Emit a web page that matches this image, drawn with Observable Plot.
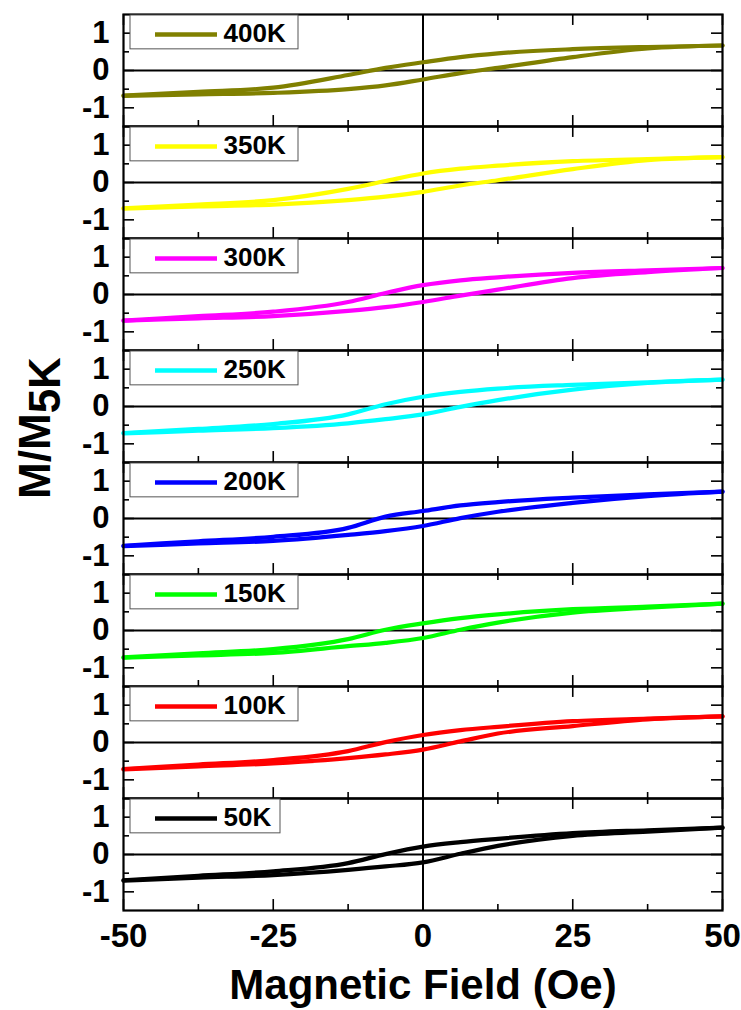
<!DOCTYPE html>
<html>
<head>
<meta charset="utf-8">
<script src="https://cdn.jsdelivr.net/npm/d3@7"></script>
<script src="https://cdn.jsdelivr.net/npm/@observablehq/plot@0.6"></script>
<style>
  html, body { margin: 0; padding: 0; background: #fff; }
  #chart { width: 741px; height: 1010px; }
</style>
</head>
<body>
<div id="chart"></div>
<script>
// ---- data ----
const temps = ["400K", "350K", "300K", "250K", "200K", "150K", "100K", "50K"];
const colors = ["#808000", "#ffff00", "#ff00ff", "#00ffff", "#0000ff", "#00ff00", "#ff0000", "#000000"];
const fields = [-50, -37.5, -25, -12.5, -6.25, 0, 6.25, 12.5, 25, 37.5, 50];

const up400  = [-0.67, -0.57, -0.46, -0.12, 0.07, 0.22, 0.36, 0.46, 0.57, 0.63, 0.67];
const low400 = [-0.68, -0.64, -0.60, -0.50, -0.40, -0.24, -0.07, 0.07, 0.36, 0.59, 0.67];
const up350  = [-0.69, -0.59, -0.47, -0.17, 0.04, 0.24, 0.37, 0.45, 0.57, 0.63, 0.68];
const low350 = [-0.70, -0.64, -0.59, -0.47, -0.38, -0.25, -0.08, 0.06, 0.36, 0.60, 0.68];
const up300  = [-0.70, -0.58, -0.46, -0.20, 0.04, 0.25, 0.38, 0.46, 0.58, 0.65, 0.71];
const low300 = [-0.70, -0.64, -0.58, -0.44, -0.34, -0.20, -0.03, 0.13, 0.44, 0.60, 0.71];
const up250  = [-0.71, -0.60, -0.47, -0.21, 0.06, 0.26, 0.39, 0.48, 0.58, 0.65, 0.72];
const low250 = [-0.72, -0.65, -0.58, -0.45, -0.34, -0.21, -0.01, 0.17, 0.45, 0.63, 0.72];
const up200  = [-0.73, -0.61, -0.49, -0.25, 0.05, 0.20, 0.35, 0.44, 0.56, 0.65, 0.72];
const low200 = [-0.74, -0.67, -0.60, -0.44, -0.34, -0.20, 0.01, 0.18, 0.42, 0.60, 0.72];
const up150  = [-0.72, -0.61, -0.50, -0.23, 0.02, 0.19, 0.33, 0.43, 0.57, 0.64, 0.72];
const low150 = [-0.73, -0.67, -0.60, -0.42, -0.33, -0.20, 0.02, 0.21, 0.48, 0.61, 0.72];
const up100  = [-0.71, -0.59, -0.47, -0.23, 0.01, 0.20, 0.33, 0.42, 0.57, 0.64, 0.70];
const low100 = [-0.72, -0.64, -0.56, -0.42, -0.32, -0.19, 0.03, 0.24, 0.44, 0.62, 0.70];
const up50   = [-0.69, -0.57, -0.45, -0.23, 0.01, 0.21, 0.33, 0.42, 0.57, 0.65, 0.72];
const low50  = [-0.70, -0.62, -0.55, -0.41, -0.32, -0.21, 0.02, 0.23, 0.50, 0.61, 0.72];

const xTickLabels = [-50, -25, 0, 25, 50];
const xMinor = [-37.5, -12.5, 12.5, 37.5];
const yTickLabels = [-1, 0, 1];
const yMinor = [-0.5, 0.5];

const branches = {
  "400K": [up400, low400], "350K": [up350, low350], "300K": [up300, low300],
  "250K": [up250, low250], "200K": [up200, low200], "150K": [up150, low150],
  "100K": [up100, low100], "50K": [up50, low50]
};

// ---- build table ----
const rows = [];
for (const T of temps) {
  const [up, low] = branches[T];
  fields.forEach((f, i) => rows.push({T, branch: "up", field: f, m: up[i]}));
  fields.forEach((f, i) => rows.push({T, branch: "low", field: f, m: low[i]}));
}
const legendRows = temps.map(T => ({T}));

// ---- layout ----
const W = 741, H = 1010;
const mL = 123, mR = 19, mT = 12, mB = 98;
const plotW = W - mL - mR;
const facetH = (H - mT - mB) / temps.length;
const kx = 100 / plotW;   // Oe per px
const ky = 3 / facetH;    // units per px
const tMaj = 11, tMin = 6;
const font = "'Liberation Sans', Arial, Helvetica, sans-serif";
const colorOf = T => colors[temps.indexOf(T)];

const chart = Plot.plot({
  width: W, height: H,
  marginLeft: mL, marginRight: mR, marginTop: mT, marginBottom: mB,
  style: {fontFamily: font, background: "#fff", color: "#000", overflow: "visible"},
  x: {domain: [-50, 50]},
  y: {domain: [-1.5, 1.5]},
  fy: {domain: temps, padding: 0, axis: null},
  marks: [
    Plot.ruleY([0], {stroke: "#000", strokeWidth: 2}),
    Plot.ruleX([0], {stroke: "#000", strokeWidth: 2}),
    // ticks (inward)
    Plot.ruleX(xTickLabels, {x: d => d, y1: 1.5, y2: 1.5 - tMaj * ky, stroke: "#000", strokeWidth: 1.6}),
    Plot.ruleX(xTickLabels, {x: d => d, y1: -1.5, y2: -1.5 + tMaj * ky, stroke: "#000", strokeWidth: 1.6}),
    Plot.ruleX(xMinor, {x: d => d, y1: 1.5, y2: 1.5 - tMin * ky, stroke: "#000", strokeWidth: 1.6}),
    Plot.ruleX(xMinor, {x: d => d, y1: -1.5, y2: -1.5 + tMin * ky, stroke: "#000", strokeWidth: 1.6}),
    Plot.ruleY(yTickLabels, {y: d => d, x1: -50, x2: -50 + tMaj * kx, stroke: "#000", strokeWidth: 1.6}),
    Plot.ruleY(yTickLabels, {y: d => d, x1: 50, x2: 50 - tMaj * kx, stroke: "#000", strokeWidth: 1.6}),
    Plot.ruleY(yMinor, {y: d => d, x1: -50, x2: -50 + tMin * kx, stroke: "#000", strokeWidth: 1.6}),
    Plot.ruleY(yMinor, {y: d => d, x1: 50, x2: 50 - tMin * kx, stroke: "#000", strokeWidth: 1.6}),
    // curves
    Plot.line(rows, {
      x: "field", y: "m", fy: "T", z: d => d.T + d.branch,
      stroke: d => colorOf(d.T), strokeWidth: 4.2, curve: "monotone-x"
    }),
    Plot.frame({stroke: "#000", strokeWidth: 2.2}),
    // legends
    Plot.rect(legendRows, {
      fy: "T",
      x1: -50 + 7 * kx,
      x2: d => -50 + (d.T.length > 3 ? 175 : 157) * kx,
      y1: 1.5 - 1 * ky, y2: 1.5 - 35 * ky,
      fill: "#fff", stroke: "#555", strokeWidth: 1
    }),
    Plot.ruleY(legendRows, {
      fy: "T", y: 1.5 - 20 * ky,
      x1: -50 + 32 * kx, x2: -50 + 94 * kx,
      stroke: d => colorOf(d.T), strokeWidth: 4.5
    }),
    Plot.text(legendRows, {
      fy: "T", x: -50 + 100 * kx, y: 1.5 - 19 * ky,
      text: "T", textAnchor: "start", lineAnchor: "middle",
      fontSize: 26, fontWeight: "bold", fill: "#000"
    }),
    // axes
    Plot.axisY(yTickLabels, {
      anchor: "left", tickSize: 0, tickPadding: 14, label: null,
      tickFormat: d => String(d), fontSize: 31, fontWeight: "bold"
    }),
    Plot.axisX(xTickLabels, {
      anchor: "bottom", tickSize: 0, tickPadding: 13, label: null,
      tickFormat: d => String(d), fontSize: 33, fontWeight: "bold"
    }),
    Plot.text([{T: "50K"}], {
      fy: "T", frameAnchor: "bottom", dy: 88, lineAnchor: "bottom",
      text: () => "Magnetic Field (Oe)", fontSize: 42, fontWeight: "bold", fill: "#000"
    })
  ]
});

document.getElementById("chart").appendChild(chart);

// y-axis title with subscript
const svg = d3.select(chart);
const yt = svg.append("text")
  .attr("transform", "translate(50,428) rotate(-90)")
  .attr("text-anchor", "middle")
  .attr("font-family", font)
  .attr("font-weight", "bold")
  .attr("font-size", 44)
  .attr("fill", "#000");
yt.append("tspan").text("M/M");
yt.append("tspan").attr("dy", 10).text("5K");
</script>
</body>
</html>
